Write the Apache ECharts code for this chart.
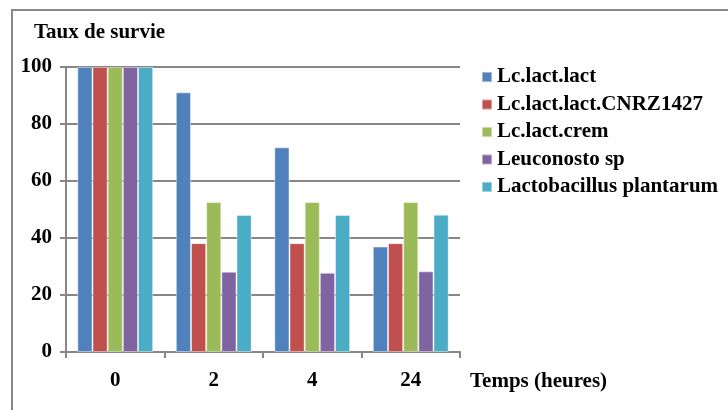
<!DOCTYPE html>
<html>
<head>
<meta charset="utf-8">
<script src="https://cdn.jsdelivr.net/npm/echarts@6/dist/echarts.min.js"></script>
<style>
  html, body { margin: 0; padding: 0; background: #fff; }
  #chart { width: 728px; height: 410px; }
</style>
</head>
<body>
<div id="chart"></div>
<script>
// Temps (heures) on the category axis
const categories = ['0', '2', '4', '24'];

// Taux de survie (%) per strain
const lcLactLact = [100, 91.1, 71.8, 37.0];
const lcLactLactCNRZ1427 = [100, 38.2, 38.2, 38.2];
const lcLactCrem = [100, 52.6, 52.6, 52.6];
const leuconostoSp = [100, 28.2, 27.8, 28.3];
const lactobacillusPlantarum = [100, 48.1, 48.1, 48.2];

const seriesNames = ['Lc.lact.lact', 'Lc.lact.lact.CNRZ1427', 'Lc.lact.crem', 'Leuconosto sp', 'Lactobacillus plantarum'];
const seriesValues = [lcLactLact, lcLactLactCNRZ1427, lcLactCrem, leuconostoSp, lactobacillusPlantarum];
const colors = ['#4F81BD', '#C0504D', '#9BBB59', '#8064A2', '#4BACC6'];

const yTicks = { min: 0, max: 100, interval: 20 };

const font = '"Liberation Serif", "Times New Roman", serif';
const axisGray = '#878787';

const chart = echarts.init(document.getElementById('chart'), null, { renderer: 'canvas' });

chart.setOption({
  animation: false,
  backgroundColor: '#fff',
  color: colors,
  textStyle: { fontFamily: font },
  grid: { left: 66, right: 268, top: 67, bottom: 58 },
  legend: {
    orient: 'vertical',
    left: 481,
    top: 66,
    padding: 0,
    icon: 'rect',
    itemWidth: 10,
    itemHeight: 10,
    itemGap: 5.5,
    textStyle: { fontFamily: font, fontSize: 21, fontWeight: 'bold', color: '#000', lineHeight: 22 },
    data: seriesNames
  },
  xAxis: {
    type: 'category',
    data: categories,
    boundaryGap: true,
    axisLine: { lineStyle: { color: axisGray, width: 2 } },
    axisTick: { show: true, length: 6, lineStyle: { color: axisGray, width: 2 } },
    axisLabel: { fontFamily: font, fontSize: 21, fontWeight: 'bold', color: '#000', margin: 18 },
    splitLine: { show: false }
  },
  yAxis: {
    type: 'value',
    min: yTicks.min,
    max: yTicks.max,
    interval: yTicks.interval,
    axisLine: { show: true, lineStyle: { color: axisGray, width: 2 } },
    axisTick: { show: true, length: 6, lineStyle: { color: axisGray, width: 2 } },
    axisLabel: { fontFamily: font, fontSize: 21, fontWeight: 'bold', color: '#000', margin: 14 },
    splitLine: { show: true, lineStyle: { color: axisGray, width: 2 } }
  },
  series: seriesNames.map((name, i) => ({
    name: name,
    type: 'bar',
    data: seriesValues[i],
    barGap: '0%',
    barCategoryGap: '23%',
    itemStyle: { color: colors[i], borderColor: 'rgba(255,255,255,0.45)', borderWidth: 1 }
  })),
  graphic: [
    {
      type: 'rect',
      shape: { x: 12, y: 10, width: 900, height: 600 },
      style: { fill: 'none', stroke: '#888', lineWidth: 2 },
      silent: true
    },
    {
      type: 'text',
      left: 34,
      top: 22,
      style: { text: 'Taux de survie', font: 'bold 21px ' + font, fill: '#000' }
    },
    {
      type: 'text',
      left: 470,
      top: 371,
      style: { text: 'Temps (heures)', font: 'bold 21px ' + font, fill: '#000' }
    }
  ]
});
</script>
</body>
</html>
